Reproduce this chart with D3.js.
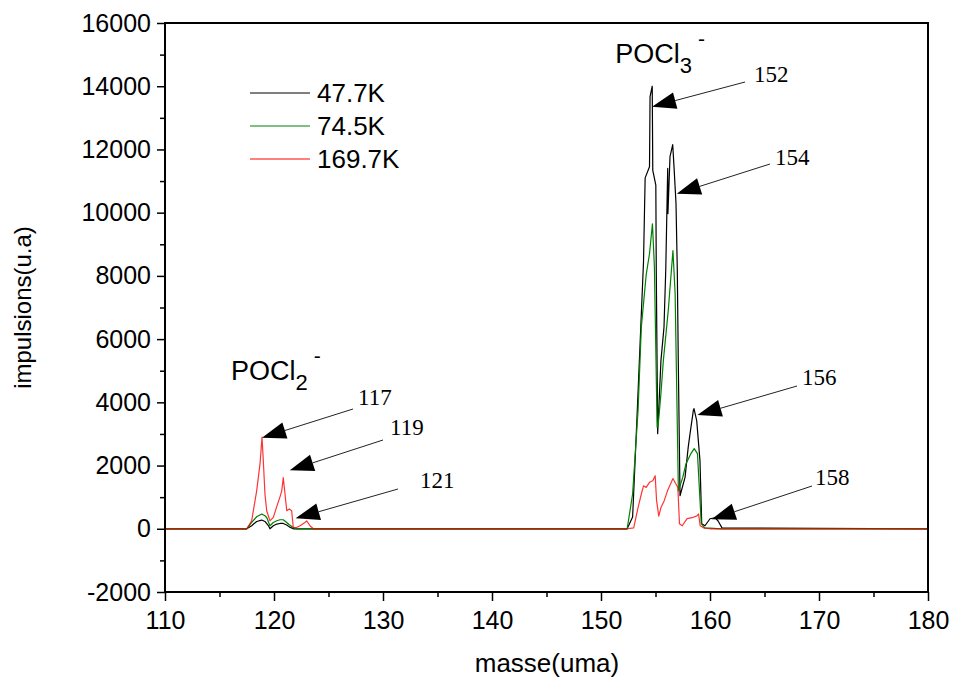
<!DOCTYPE html>
<html>
<head>
<meta charset="utf-8">
<script src="https://cdn.jsdelivr.net/npm/d3@7"></script>
<style>
  html, body { margin: 0; padding: 0; background: #fff; }
  svg { display: block; }
</style>
</head>
<body>
<svg id="chart" width="953" height="682"></svg>
<script>
// ---------- DATA ----------
const seriesNames = ["47.7K", "74.5K", "169.7K"];
const seriesColors = ["#000000", "#008000", "#ff0000"];

const massBlack = [110, 117.5, 117.95, 118.41, 118.87, 119.17, 119.5, 119.63, 119.94, 120.25, 120.55, 120.85, 121.17, 121.4, 121.77, 122.5,
  152.4, 152.9, 153.3, 153.65, 153.9, 154.05, 154.45, 154.5, 154.7, 154.75, 155.03, 155.07, 155.2, 155.5, 155.78, 155.94,
  156.12, 156.14, 156.33, 156.58, 156.7, 156.88, 157.0, 157.09, 157.25, 157.71, 158.0, 158.17, 158.47, 158.53, 158.78,
  159.08, 159.24, 159.54, 160.0, 160.46, 160.73, 161.1, 180];
const ionsBlack = [0, 0, 95, 231, 276, 231, 95, 0, 95, 149, 168, 168, 117, 60, 0, 0,
  0, 370, 3500, 6380, 8450, 11100, 11450, 13670, 14000, 11340, 10870, 8200, 3010, 5320, 6380, 8180,
  11400, 9970, 11770, 12150, 11440, 10300, 8180, 5320, 1045, 1625, 2576, 3010, 3740, 3800, 3420,
  2155, 158, 95, 317, 349, 253, 30, 0];

const massGreen = [110, 117.5, 117.95, 118.41, 118.87, 119.17, 119.33, 119.63, 119.94, 120.25, 120.55, 120.85, 121.17, 121.4, 121.77, 122.08,
  152.4, 152.9, 153.4, 153.7, 154.15, 154.45, 154.72, 154.9, 155.15, 155.25, 155.5, 155.72, 156.17, 156.6, 156.8, 157.1,
  157.5, 157.8, 158.25, 158.55, 158.85, 159.2, 159.5, 160.0, 161.0, 180];
const ionsGreen = [0, 0, 200, 380, 466, 412, 358, 95, 200, 253, 285, 285, 200, 127, 41, 0,
  0, 1100, 3745, 6380, 8050, 8700, 9650, 8280, 3210, 3300, 4280, 5320, 6900, 8800, 7450, 1200,
  1625, 2060, 2380, 2535, 2380, 160, 30, 20, 0, 0];

const massRed = [110, 117.5, 117.95, 118.41, 118.72, 118.9, 119.02, 119.17, 119.33, 119.63, 119.94, 120.25, 120.55, 120.71, 120.85, 121.01,
  121.17, 121.4, 121.62, 121.77, 122.08, 122.39, 122.84, 123.0, 123.3, 123.61,
  152.4, 153.0, 153.4, 153.7, 153.9, 154.15, 154.45, 154.75, 154.97, 155.1, 155.3, 155.5, 155.8, 156.1, 156.4, 156.6,
  156.85, 157.05, 157.2, 157.45, 157.9, 158.35, 158.8, 158.95, 159.1, 159.4, 160.0, 180];
const ionsRed = [0, 0, 250, 1200, 2060, 2900, 2150, 1100, 570, 250, 360, 700, 1010, 1200, 1620, 1100,
  570, 630, 570, 40, 40, 95, 200, 250, 95, 0,
  0, 30, 670, 1100, 1360, 1310, 1470, 1520, 1680, 890, 400, 670, 890, 1200, 1430, 1590,
  1430, 1310, 160, 95, 320, 350, 410, 470, 95, 30, 0, 0];

const xTickValues = [110, 120, 130, 140, 150, 160, 170, 180];
const yTickValues = [-2000, 0, 2000, 4000, 6000, 8000, 10000, 12000, 14000, 16000];

// peak annotations: label, target mass, target ions
const peakLabels = ["152", "154", "156", "158", "117", "119", "121"];
const peakMass   = [154.68, 156.95, 158.85, 160.15, 118.9, 121.45, 121.98];
const peakIons   = [13350, 10600, 3600, 300, 2880, 1850, 330];

// ---------- LAYOUT ----------
const svg = d3.select("#chart");
const mLeft = 165, mRight = 928, mTop = 23, mBottom = 592;
const x = d3.scaleLinear().domain([110, 180]).range([mLeft, mRight]);
const y = d3.scaleLinear().domain([-2000, 16000]).range([mBottom, mTop]);

const font = "'Liberation Sans', Arial, sans-serif";
const serif = "'Liberation Serif', 'Times New Roman', serif";

// ---------- SERIES ----------
const line = d3.line().x(d => x(d[0])).y(d => y(d[1]));
const seriesData = [
  d3.zip(massBlack, ionsBlack),
  d3.zip(massGreen, ionsGreen),
  d3.zip(massRed, ionsRed)
];
const seriesOpacity = [1, 1, 0.8];
const plot = svg.append("g");
seriesData.forEach((data, i) => {
  plot.append("path")
    .datum(data)
    .attr("fill", "none")
    .attr("stroke", seriesColors[i])
    .attr("stroke-opacity", seriesOpacity[i])
    .attr("stroke-width", 1.2)
    .attr("stroke-linejoin", "round")
    .attr("d", line);
});

// ---------- AXES ----------
const fmt = d => String(d);
const xAxis = d3.axisBottom(x).tickValues(xTickValues).tickSize(9).tickPadding(10).tickFormat(fmt);
const xMinor = d3.axisBottom(x).tickValues(d3.range(115, 180, 10)).tickSize(5).tickFormat("");
const yAxis = d3.axisLeft(y).tickValues(yTickValues).tickSize(8).tickPadding(6).tickFormat(fmt);
const yMinor = d3.axisLeft(y).tickValues(d3.range(-1000, 16000, 2000)).tickSize(5).tickFormat("");

function styleAxis(g) {
  g.select(".domain").remove();
  g.selectAll(".tick line").attr("stroke", "#000").attr("stroke-width", 1.5);
  g.selectAll(".tick text").attr("fill", "#000").style("font-family", font).style("font-size", "25px");
}

svg.append("g").attr("transform", `translate(0,${mBottom})`).call(xAxis).call(styleAxis);
svg.append("g").attr("transform", `translate(0,${mBottom})`).call(xMinor).call(styleAxis);
svg.append("g").attr("transform", `translate(${mLeft},0)`).call(yAxis).call(styleAxis);
svg.append("g").attr("transform", `translate(${mLeft},0)`).call(yMinor).call(styleAxis);

// frame
svg.append("rect")
  .attr("x", mLeft).attr("y", mTop)
  .attr("width", mRight - mLeft).attr("height", mBottom - mTop)
  .attr("fill", "none").attr("stroke", "#000").attr("stroke-width", 2);

// axis titles
svg.append("text")
  .attr("x", 547).attr("y", 672)
  .attr("text-anchor", "middle")
  .style("font-family", font).style("font-size", "26px")
  .text("masse(uma)");
svg.append("text")
  .attr("transform", `translate(31,${(mTop + mBottom) / 2}) rotate(-90)`)
  .attr("text-anchor", "middle")
  .style("font-family", font).style("font-size", "24px")
  .text("impulsions(u.a)");

// ---------- LEGEND ----------
const legend = svg.append("g");
seriesNames.forEach((name, i) => {
  const ly = 93 + i * 33;
  legend.append("line")
    .attr("x1", 250).attr("x2", 310).attr("y1", ly).attr("y2", ly)
    .attr("stroke", seriesColors[i]).attr("stroke-width", 1.2);
  legend.append("text")
    .attr("x", 317).attr("y", ly + 9)
    .style("font-family", font).style("font-size", "26px")
    .text(name);
});

// ---------- SPECIES LABELS ----------
function species(xp, yp, sub) {
  const t = svg.append("text").attr("x", xp).attr("y", yp)
    .style("font-family", font).style("font-size", "27px");
  t.append("tspan").text("POCl");
  t.append("tspan").attr("dy", 10).style("font-size", "22px").text(sub);
  t.append("tspan").attr("dy", -27).attr("dx", 6).style("font-size", "21px").text("-");
}
species(x(116.05), 380, "2");
species(x(151.3), 63, "3");

// ---------- ARROWS ----------
const textPos = [[754, 82], [775, 165], [802, 385], [815, 485], [358, 405], [390, 435], [420, 488]];
const arrowTail = [[745, 82], [770, 164], [797, 386], [812, 486], [353, 409], [383, 440], [398, 489]];
peakLabels.forEach((lab, i) => {
  const tx = x(peakMass[i]), ty = y(peakIons[i]);
  const [sx, sy] = arrowTail[i];
  const ang = Math.atan2(sy - ty, sx - tx);
  const len = 24, hw = 8.5;
  const bx = tx + len * Math.cos(ang), by = ty + len * Math.sin(ang);
  svg.append("line")
    .attr("x1", sx).attr("y1", sy).attr("x2", bx).attr("y2", by)
    .attr("stroke", "#222").attr("stroke-width", 1);
  const px = -Math.sin(ang), py = Math.cos(ang);
  svg.append("path")
    .attr("d", `M${tx},${ty}L${bx + hw * px},${by + hw * py}L${bx - hw * px},${by - hw * py}Z`)
    .attr("fill", "#000");
  svg.append("text")
    .attr("x", textPos[i][0]).attr("y", textPos[i][1])
    .style("font-family", serif).style("font-size", "23px")
    .text(lab);
});
</script>
</body>
</html>
